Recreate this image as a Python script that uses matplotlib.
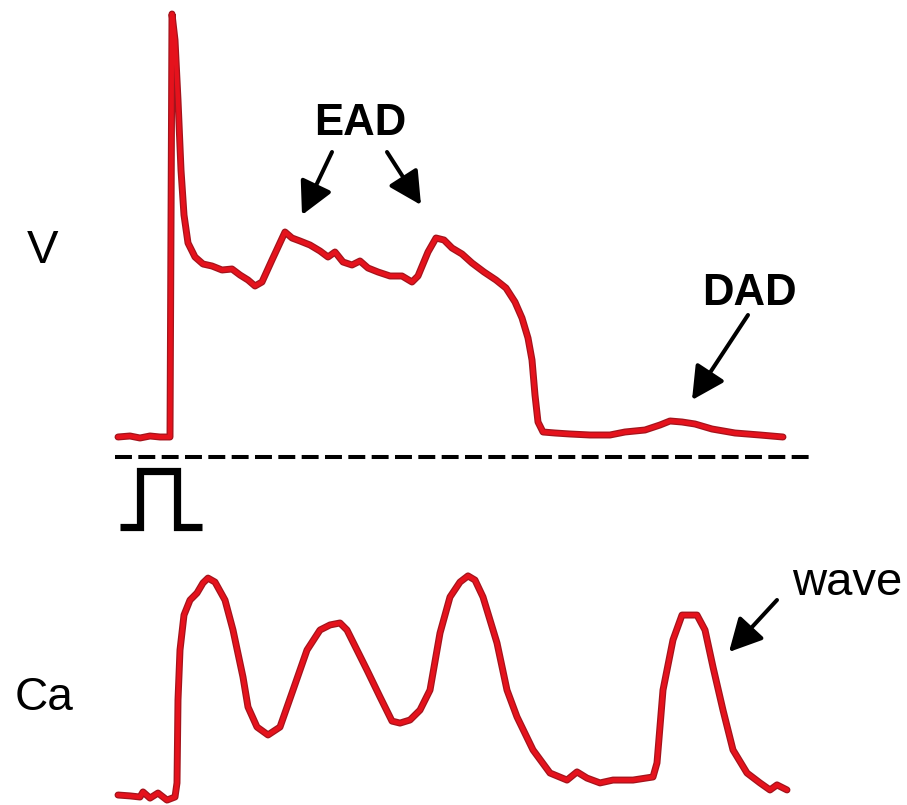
import matplotlib
matplotlib.use("Agg")
import matplotlib.pyplot as plt
import matplotlib.patheffects as pe

plt.rcParams['font.family'] = ['Liberation Sans', 'DejaVu Sans']
plt.rcParams['lines.scale_dashes'] = False

# ---- membrane voltage trace (time in ms, V in mV) ----
v_time = [0, 24, 44, 64, 84, 104, 108, 114, 120, 126, 132, 140, 154, 170, 188, 208, 228, 244,
          260, 274, 288, 308, 334, 348, 364, 384, 404, 420, 434, 450, 468, 484, 500, 520,
          544, 568, 588, 600, 620, 636, 652, 668, 688, 708, 732, 756, 776, 794, 808, 820,
          828, 834, 840, 850, 874, 904, 944, 984, 1014, 1054, 1084, 1104, 1128, 1154, 1188,
          1234, 1284, 1330]
v_mV = [-85.0, -84.7, -85.3, -84.7, -85.0, -85.0, 41.9, 34.1, 16.1, -4.9, -18.4, -26.8, -31.0,
        -33.1, -33.7, -34.9, -34.6, -36.4, -37.9, -39.7, -38.5, -31.9, -23.5, -25.3, -26.2,
        -27.4, -29.2, -31.0, -29.5, -32.5, -33.4, -32.2, -34.3, -35.5, -36.7, -36.7, -38.5,
        -36.7, -29.5, -25.3, -25.9, -28.3, -30.1, -32.8, -35.5, -37.9, -40.3, -44.5, -49.3,
        -55.3, -61.9, -72.4, -80.5, -83.5, -83.8, -84.1, -84.4, -84.4, -83.5, -82.9, -81.4,
        -80.2, -80.5, -81.1, -82.6, -83.8, -84.4, -85.0]

# ---- calcium transient (time in ms, Ca in % of max) ----
ca_time = [0, 24, 44, 50, 64, 80, 98, 114, 118, 120, 124, 132, 144, 158, 170, 180, 194, 214,
           230, 250, 260, 278, 300, 324, 350, 378, 404, 424, 444, 458, 478, 498, 524, 548,
           564, 584, 604, 624, 644, 664, 684, 700, 714, 730, 758, 778, 798, 830, 864, 898,
           918, 938, 964, 990, 1030, 1070, 1078, 1090, 1110, 1128, 1158, 1174, 1190, 1210,
           1230, 1258, 1284, 1304, 1318, 1338]
ca_level = [0.9, 0.5, 0.0, 2.3, -0.5, 1.8, -1.4, 0.0, 6.4, 44.1, 66.8, 82.7, 89.5, 92.7, 97.3,
            99.5, 97.7, 89.5, 75.9, 54.5, 40.9, 31.8, 28.2, 31.8, 48.6, 66.8, 75.9, 78.2, 79.1,
            75.9, 66.8, 57.7, 45.5, 34.5, 33.6, 35.0, 39.5, 48.6, 74.5, 90.9, 97.7, 100.5,
            98.6, 90.9, 70.0, 48.6, 36.4, 21.4, 10.9, 7.7, 11.4, 8.6, 6.4, 7.7, 7.7, 9.1,
            15.5, 48.6, 71.4, 82.7, 82.7, 75.9, 59.1, 39.5, 21.4, 10.9, 6.4, 3.2, 5.5, 3.2]

# ---- stimulus pulse ----
stim_time = [4, 44, 44, 118, 118, 168]
stim_level = [0, 0, 1, 1, 0, 0]

labels = {"V": "V", "Ca": "Ca", "EAD": "EAD", "DAD": "DAD", "wave": "wave"}

W, H = 907, 805
fig = plt.figure(figsize=(W / 100, H / 100), dpi=100)

# pixel -> data mappings (axes cover the whole figure)
t_lim = ((0 - 118) * 2, (W - 118) * 2)

ax_v = fig.add_axes([0, 0, 1, 1])
ax_v.set_xlim(*t_lim)
ax_v.set_ylim(-85 + (437 - H) * 0.3, -85 + 437 * 0.3)
ax_v.axis('off')

ax_ca = fig.add_axes([0, 0, 1, 1])
ax_ca.set_xlim(*t_lim)
ax_ca.set_ylim((797 - H) / 2.2, 797 / 2.2)
ax_ca.axis('off')

ax_s = fig.add_axes([0, 0, 1, 1])
ax_s.set_xlim(*t_lim)
ax_s.set_ylim((527 - H) / 56, 527 / 56)
ax_s.axis('off')

ax = fig.add_axes([0, 0, 1, 1])  # annotation overlay, pixel coords
ax.set_xlim(0, W)
ax.set_ylim(H, 0)
ax.axis('off')

red = '#e5121c'
edge = [pe.Stroke(linewidth=5.0, foreground='#a3141c'), pe.Normal()]
ax_v.plot(v_time, v_mV, color=red, lw=3.2, solid_joinstyle='round',
          solid_capstyle='round', path_effects=edge)
ax_ca.plot(ca_time, ca_level, color=red, lw=3.2, solid_joinstyle='round',
           solid_capstyle='round', path_effects=edge)
ax_s.plot(stim_time, stim_level, color='black', lw=5.2, solid_joinstyle='miter',
          solid_capstyle='butt')

# dashed separator
ax.plot([115, 810], [457, 457], color='black', lw=2.9, dashes=[12.2, 4.6],
        solid_capstyle='butt', dash_capstyle='butt')

# labels
ax.text(43, 263, labels["V"], fontsize=34, ha='center', va='baseline')
ax.text(44, 710, labels["Ca"], fontsize=33, ha='center', va='baseline')
ax.text(360, 135, labels["EAD"], fontsize=31.5, fontweight='bold', ha='center', va='baseline')
ax.text(749, 305, labels["DAD"], fontsize=31.5, fontweight='bold', ha='center', va='baseline')
ax.text(847, 595, labels["wave"], fontsize=34, ha='center', va='baseline')

ap = dict(arrowstyle='-|>,head_length=1.0,head_width=0.52', lw=2.9, color='black',
          shrinkA=0, shrinkB=0, mutation_scale=20)
for tail, tip in [((332, 152), (302, 215)), ((387, 152), (421, 205)),
                  ((748, 315), (692, 400)), ((777, 600), (729, 652))]:
    ax.annotate('', xy=tip, xytext=tail, arrowprops=ap)

fig.savefig('out.png', dpi=100, facecolor='white')
